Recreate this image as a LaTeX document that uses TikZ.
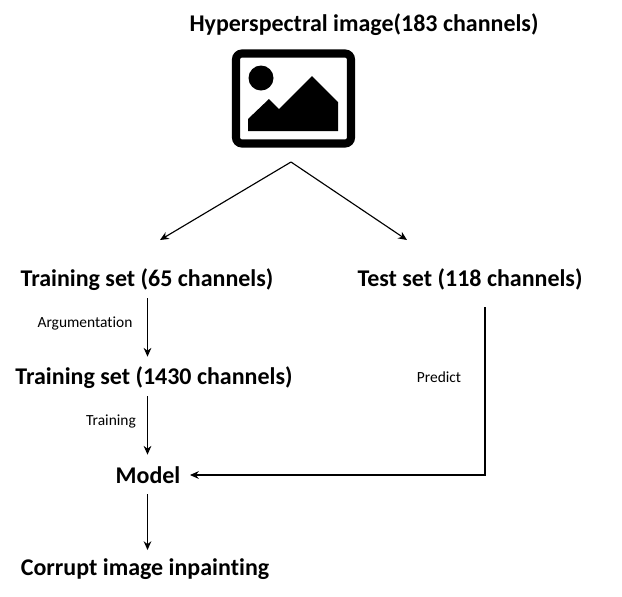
\documentclass[tikz,border=0pt]{standalone}
\usepackage{fontspec}
\setmainfont[Ligatures=NoCommon]{Carlito}
\usetikzlibrary{arrows.meta, positioning, calc}

\begin{document}
\begin{tikzpicture}[
    x=0.02cm, y=-0.02cm,
    % --- STYLES ---
    heading/.style={font=\fontsize{13.65pt}{16pt}\selectfont\bfseries, inner sep=0pt, minimum height=0.56cm},
    step label/.style={font=\fontsize{8.8pt}{10pt}\selectfont, inner sep=0pt},
    arrow/.style={-{Stealth[length=5pt, width=4.4pt]}, line width=0.65pt, color=black},
    frame/.style={draw=black, line width=4.6pt, rounded corners=3.4pt}
]
    \useasboundingbox (0,0) rectangle (622,596);

    % --- NODES ---
    \node[heading] (source) at (364,25) {Hyperspectral image(183 channels)};

    % Icon
    \node[frame, minimum width=2.30cm, minimum height=1.80cm, inner sep=0pt] (icon) at (293.5,98.5) {};
    \fill (261,78) circle (12.5);
    \fill (248,131) -- (248,119) -- (269,99) -- (279,109) -- (312,76) -- (338,102) -- (338,131) -- cycle;

    \coordinate (split) at (291,162);
    \node[heading] (train65) at (147,280) {Training set (65 channels)};
    \node[heading] (test118) at (470,279) {Test set (118 channels)};
    \node[heading] (train1430) at (154,378) {Training set (1430 channels)};
    \node[heading] (model) at (148,475) {Model};
    \node[heading] (inpaint) at (145,569) {Corrupt image inpainting};

    \node[step label] (argument) at (85,324) {Argumentation};
    \node[step label] (training) at (111,421) {Training};
    \node[step label] (predict) at (439,377) {Predict};

    % Free ends of the split
    \coordinate (toTrain) at (160,240);
    \coordinate (toTest) at (407,240);
    \coordinate (testDown) at (485,307);
    \coordinate (modelIn) at (190,475);
    \coordinate (inpaintIn) at (147.5,550);

    % --- FLOW ---
    \draw[arrow] ($(train65.south -| inpaintIn)+(0,4)$) -- ($(train1430.north -| inpaintIn)+(0,-7)$);
    \draw[arrow] ($(train1430.south -| inpaintIn)+(0,4)$) -- ($(model.north -| inpaintIn)+(0,-6)$);
    \draw[arrow] ($(model.south -| inpaintIn)+(0,5)$) -- (inpaintIn);

    \draw[arrow] (split) -- (toTrain);
    \draw[arrow] (split) -- (toTest);
    \draw[arrow] (testDown) |- (modelIn);
\end{tikzpicture}
\end{document}
